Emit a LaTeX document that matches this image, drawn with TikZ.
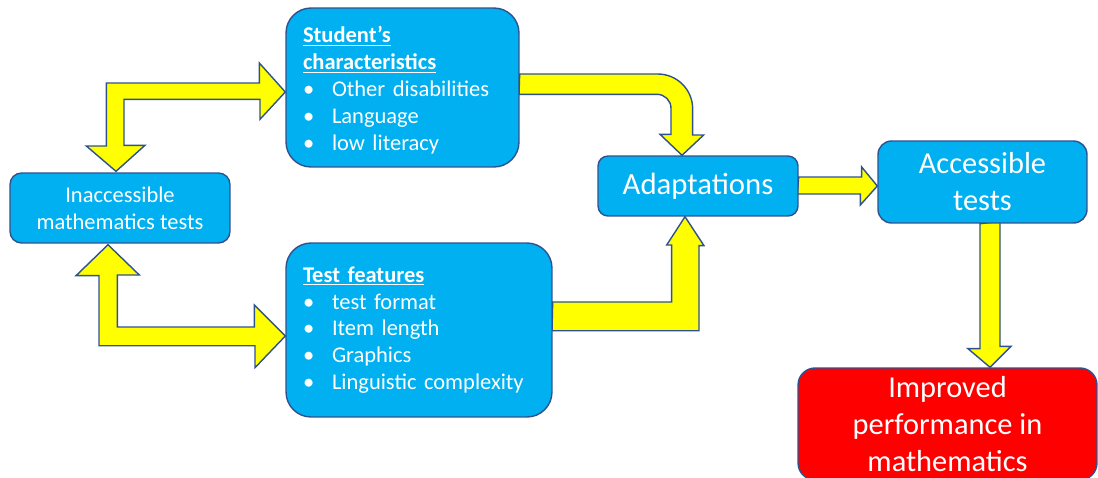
\documentclass[tikz,border=0pt]{standalone}
\usepackage{fontspec}
\setmainfont{Carlito}
\usetikzlibrary{
  calc,         % Offsets from anchors $...$
  backgrounds,  % Layer "background" for the block arrows
}
\definecolor{boxblue}{HTML}{00B0F0}
\definecolor{boxline}{HTML}{2F528F}
\definecolor{arrowyellow}{HTML}{FFFF00}
\definecolor{goalred}{HTML}{FF0000}
\newcommand{\itm}[1]{\makebox[0.58cm][l]{\textbullet}#1}
\tikzset{
  my box/.style={
    draw=boxline,
    fill=boxblue,
    text=white,
    line width=0.8pt,
    inner sep=0pt,
    align=center
  },
  my small/.style={
    font=\fontsize{12.8}{15.3}\selectfont
  },
  my large/.style={
    font=\fontsize{17.3}{21}\selectfont
  },
  my list/.style={
    my box,
    my small,
    align=left,
    inner xsep=0.34cm,
    rounded corners=0.5cm
  },
  block arrow/.style={
    draw=boxline,
    fill=arrowyellow,
    line width=0.8pt,
    line join=miter
  }
}

\begin{document}
\begin{tikzpicture}[x=0.02cm,y=-0.02cm]
\clip (0,0) rectangle (1098,477);
\node[my box,my small,minimum width=4.4cm,minimum height=1.4cm,rounded corners=0.23cm]
  (inacc) at (120,208) {Inaccessible\\mathematics tests};
\node[my list,text width=3.98cm,minimum height=3.18cm] (stud) at (402.5,87.5)
  {\rule{0pt}{12.5pt}\underline{\textbf{Student’s}}\\
   \underline{\textbf{characteristics}}\\
   \itm{Other disabilities}\\
   \itm{Language}\\
   \itm{low literacy}};
\node[my list,text width=4.64cm,minimum height=3.48cm] (test) at (419,330)
  {\underline{\textbf{Test features}}\\
   \itm{test format}\\
   \itm{Item length}\\
   \itm{Graphics}\\
   \itm{Linguistic complexity}};
\node[my box,font=\fontsize{17.5}{21}\selectfont,
  minimum width=4cm,minimum height=1.2cm,rounded corners=0.2cm]
  (adapt) at (698,186) {\raisebox{-1.7pt}{Adaptations}};
\node[my box,my large,minimum width=4.18cm,minimum height=1.64cm,rounded corners=0.27cm]
  (acc) at (982.5,182) {Accessible\\tests};
\node[my box,my large,fill=goalred,minimum width=5.98cm,minimum height=2.24cm,
  rounded corners=0.34cm] (impr) at (947.5,424) {Improved\\performance in\\mathematics};
\begin{scope}[on background layer]
% two-headed elbow between the left box and the student box
\draw[block arrow] ($(stud.west)+(0,4.5)$) -- ++(-26,-29) -- ++(0,20) -- ++(-153,0)
  -- ++(0,63) -- ++(-20,0) -- ($(inacc.north)+(-4,-1)$) -- ++(29,-26) -- ++(-21,0)
  -- ++(0,-46) -- ++(136,0) -- ++(0,20) -- cycle;
\draw[block arrow] ($(test.west)+(0,6)$) -- ++(-31,-31) -- ++(0,22) -- ++(-137,0)
  -- ++(0,-52) -- ++(22,0) -- ($(inacc.south)+(-12,1)$) -- ++(-32,31) -- ++(23,0)
  -- ++(0,70) -- ++(156,0) -- ++(0,22) -- cycle;
% rounded bend into the top of the adaptations box
\draw[block arrow] ($(stud.east)+(0,-13.5)$) -- ++(138,0) to[out=0,in=90] ++(35,35)
  -- ++(0,26) -- ++(11,0) -- ($(adapt.north)+(-16,0)$) -- ++(-22,-21) -- ++(11,0)
  -- ++(0,-26) to[out=90,in=0] ++(-14,-14) -- ++(-138,0) -- cycle;
\draw[block arrow] ($(test.east)+(0,-28)$) -- ++(119,0) -- ++(0,-57) -- ++(-5,0)
  -- ($(adapt.south)+(-13,0)$) -- ++(19,29) -- ++(-5,0) -- ++(0,85) -- ++(-147,0) -- cycle;
\draw[block arrow] ($(adapt.east)+(0,-9)$) -- ++(63,0) -- ++(0,-10)
  -- ($(acc.west)+(0,4)$) -- ++(-17,19) -- ++(0,-11) -- ++(-63,0) -- cycle;
\draw[block arrow] ($(acc.south)+(-2.5,0)$) -- ++(0,125) -- ++(-12,0)
  -- ($(impr.north)+(42.5,0)$) -- ++(21,-21) -- ++(-11,0) -- ++(0,-125) -- cycle;
\end{scope}
\end{tikzpicture}
\end{document}
